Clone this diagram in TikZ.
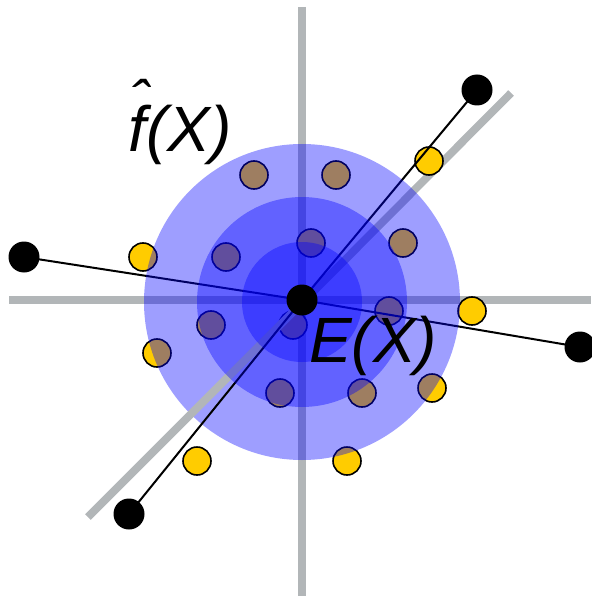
\documentclass[tikz,border=0pt]{standalone}
\usepackage{fontspec}
\setmainfont{Liberation Sans}
\begin{document}
\begin{tikzpicture}[x=1pt,y=-1pt,
  axis/.style={line width=7.8pt, draw=axisgray},
  conn/.style={line width=2pt, draw=black},
  ydot/.style={circle, fill=dotyellow, draw=black, line width=1.6pt, minimum size=28pt, inner sep=0pt},
  bdot/.style={circle, fill=black, minimum size=31pt, inner sep=0pt},
  blob/.style={fill=blue, fill opacity=0.38},
  lbl/.style={font=\fontsize{64}{64}\selectfont\itshape, inner sep=0pt, anchor=base}]
\definecolor{axisgray}{RGB}{178,182,184}
\definecolor{dotyellow}{RGB}{255,204,0}
\useasboundingbox (0,0) rectangle (591,596);
% coordinates
\coordinate (C) at (302,300);
\coordinate (B1) at (24,257);
\coordinate (B2) at (477,90);
\coordinate (B3) at (580,347);
\coordinate (B4) at (129,514);
\coordinate (VT) at (302,7);
\coordinate (VB) at (302,596);
\coordinate (HL) at (9,300);
\coordinate (HR) at (591,300);
\coordinate (G1) at (88,517);
\coordinate (G2) at (511,93);
\coordinate (GM) at (300,305);
% axes
\draw[axis] (VT) -- (VB);
\draw[axis] (HL) -- (HR);
\draw[axis] (GM) -- (G2);
% yellow dots
\foreach \p [count=\i] in {(143,257),(429,161),(472,311),(157,353),(197,461),(347,461),(432,388),
  (254,175),(336,175),(226,257),(311,243),(403,243),(211,325),(293,325),(389,311),(280,393),(362,393)}
  \node[ydot] (y\i) at \p {};
% lines under outer circle
\draw[conn] (C) -- (B2);
\draw[conn] (B1) -- (C) -- (B3);
% outer circle
\fill[blob] (302,302) circle (158pt);
% lower-left parts
\draw[axis] (G1) -- (GM);
\draw[conn] (B4) -- (C);
% middle and inner circles
\fill[blob] (302,302) circle (105pt);
\fill[blob] (302,302) circle (60pt);
% black dots
\node[bdot] (b1) at (B1) {};
\node[bdot] (b2) at (B2) {};
\node[bdot] (b3) at (B3) {};
\node[bdot] (b4) at (B4) {};
\node[bdot] (c) at (C) {};
% labels
\node[lbl] (fx) at (180,152) {\makebox[0pt][l]{\raisebox{30pt}{\hspace{2pt}\fontsize{58}{58}\selectfont ˆ}}f(X)};
\node[lbl] (ex) at (373,362) {E(X)};
\end{tikzpicture}
\end{document}
